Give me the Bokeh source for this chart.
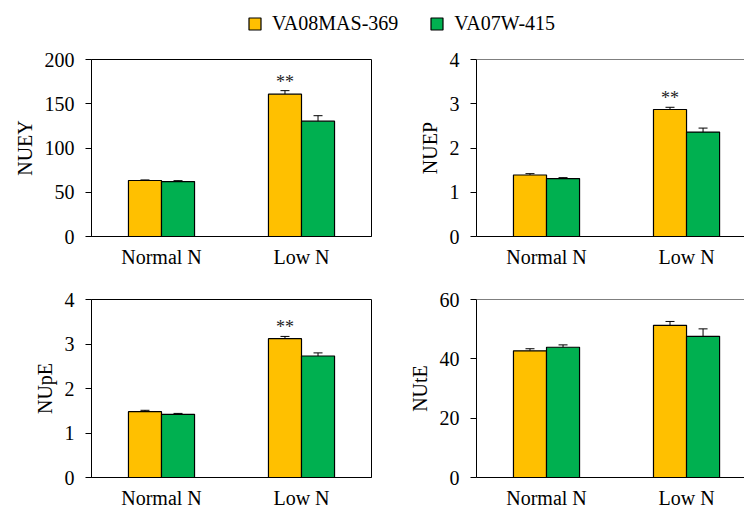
from bokeh.plotting import figure
from bokeh.layouts import column, row
from bokeh.models import (ColumnDataSource, Whisker, TeeHead, FixedTicker,
                          Range1d, Legend, LegendItem, Span)
from bokeh.transform import dodge
from bokeh.core.properties import value
from bokeh.embed import file_html
from bokeh.resources import INLINE

# ---------------- data ----------------
groups = ["Normal N", "Low N"]
series = ["VA08MAS-369", "VA07W-415"]
colors = ["#FFC000", "#00B050"]

nuey_va08 = [63.3, 160.8]
nuey_va08_err = [0.6, 4.0]
nuey_va07 = [62.1, 130.3]
nuey_va07_err = [1.0, 6.2]
nuey_ticks = [0, 50, 100, 150, 200]

nuep_va08 = [1.39, 2.87]
nuep_va08_err = [0.03, 0.05]
nuep_va07 = [1.31, 2.36]
nuep_va07_err = [0.02, 0.09]
nuep_ticks = [0, 1, 2, 3, 4]

nupe_va08 = [1.48, 3.12]
nupe_va08_err = [0.03, 0.05]
nupe_va07 = [1.42, 2.73]
nupe_va07_err = [0.02, 0.07]
nupe_ticks = [0, 1, 2, 3, 4]

nute_va08 = [42.7, 51.3]
nute_va08_err = [0.7, 1.3]
nute_va07 = [43.9, 47.6]
nute_va07_err = [0.8, 2.5]
nute_ticks = [0, 20, 40, 60]

nuey_sig = ["", "**"]
nuep_sig = ["", "**"]
nupe_sig = ["", "**"]
nute_sig = ["", ""]

# ---------------- style ----------------
FONT_NAME = "Liberation Serif"
FONT = value(FONT_NAME)
FS = "20px"
BAR_W = 0.236
OFF = 0.118


def make_panel(label, a, a_err, b, b_err, ticks, sig, *, width, height,
               bl, br, bt, bb, visible_span, open_right):
    xpos = list(range(len(groups)))
    src = ColumnDataSource(dict(
        x=xpos,
        a=a, a_hi=[v + e for v, e in zip(a, a_err)],
        b=b, b_hi=[v + e for v, e in zip(b, b_err)],
        sig=sig,
    ))
    p = figure(width=width, height=height,
               x_range=Range1d(-0.5, -0.5 + visible_span),
               y_range=Range1d(ticks[0], ticks[-1]),
               output_backend="svg", toolbar_location=None,
               min_border_left=bl, min_border_right=br,
               min_border_top=bt, min_border_bottom=bb)
    p.xgrid.visible = False
    p.ygrid.visible = False
    p.background_fill_color = "white"
    p.border_fill_color = "white"
    if open_right:
        p.outline_line_color = None
        p.add_layout(Span(location=ticks[-1], dimension="width",
                          line_color="black", line_width=1))
    else:
        p.outline_line_color = "black"
        p.outline_line_width = 1
        p.outline_line_alpha = 1

    # bars
    p.vbar(x=dodge("x", -OFF), top="a", width=BAR_W, source=src,
           fill_color=colors[0], line_color="black", line_width=1.2)
    p.vbar(x=dodge("x", OFF), top="b", width=BAR_W, source=src,
           fill_color=colors[1], line_color="black", line_width=1.2)

    # error bars (upper only)
    for off, lo, hi in ((-OFF, "a", "a_hi"), (OFF, "b", "b_hi")):
        w = Whisker(base=dodge("x", off), lower=lo, upper=hi, source=src,
                    line_color="black", line_width=1,
                    upper_head=TeeHead(size=9, line_color="black", line_width=1),
                    lower_head=None)
        p.add_layout(w)

    # significance
    p.text(x=dodge("x", -OFF), y="a_hi", text="sig", source=src,
           text_font=FONT, text_font_size="18px", text_color="#222222",
           text_align="center", text_baseline="middle", y_offset=-9)

    # axes
    p.xaxis.ticker = FixedTicker(ticks=xpos)
    p.xaxis.major_label_overrides = {i: g for i, g in enumerate(groups)}
    p.xaxis.major_tick_line_color = None
    p.xaxis.minor_tick_line_color = None
    p.xaxis.major_tick_out = 0
    p.xaxis.major_tick_in = 0
    p.xaxis.major_label_standoff = 9
    p.xaxis.axis_line_color = "black"

    p.yaxis.ticker = FixedTicker(ticks=ticks)
    p.yaxis.minor_tick_line_color = None
    p.yaxis.major_tick_in = 0
    p.yaxis.major_tick_out = 6
    p.yaxis.major_tick_line_color = "black"
    p.yaxis.major_label_standoff = 11
    p.yaxis.axis_label = label
    p.yaxis.axis_label_standoff = 6
    p.yaxis.axis_line_color = "black"

    for ax in (p.xaxis[0], p.yaxis[0]):
        ax.major_label_text_font = FONT_NAME
        ax.major_label_text_font_size = FS
        ax.major_label_text_font_style = "normal"
        ax.major_label_text_color = "black"
        ax.axis_label_text_font = FONT_NAME
        ax.axis_label_text_font_size = FS
        ax.axis_label_text_font_style = "normal"
        ax.axis_label_text_color = "black"
    return p


# ---------------- layout ----------------
LW, RW = 380, 364          # figure widths (left / right column)
LEG_H, TOP_H, BOT_H = 48, 230, 234

p1 = make_panel("NUEY", nuey_va08, nuey_va08_err, nuey_va07, nuey_va07_err,
                nuey_ticks, nuey_sig, width=LW, height=TOP_H,
                bl=91, br=9, bt=11, bb=42, visible_span=2.0, open_right=False)
p2 = make_panel("NUEP", nuep_va08, nuep_va08_err, nuep_va07, nuep_va07_err,
                nuep_ticks, nuep_sig, width=RW, height=TOP_H,
                bl=96, br=0, bt=11, bb=42, visible_span=1.914, open_right=True)
p3 = make_panel("NUpE", nupe_va08, nupe_va08_err, nupe_va07, nupe_va07_err,
                nupe_ticks, nupe_sig, width=LW, height=BOT_H,
                bl=91, br=9, bt=21, bb=35, visible_span=2.0, open_right=False)
p4 = make_panel("NUtE", nute_va08, nute_va08_err, nute_va07, nute_va07_err,
                nute_ticks, nute_sig, width=RW, height=BOT_H,
                bl=96, br=0, bt=21, bb=35, visible_span=1.914, open_right=True)

# legend strip
lf = figure(width=LW + RW, height=LEG_H, output_backend="svg",
            toolbar_location=None, min_border=0,
            x_range=Range1d(0, 1), y_range=Range1d(0, 1))
lf.axis.visible = False
lf.grid.visible = False
lf.outline_line_color = None
r1 = lf.vbar(x=[-10], top=[0], width=0.1, fill_color=colors[0],
             line_color="black", line_width=1.2)
r2 = lf.vbar(x=[-10], top=[0], width=0.1, fill_color=colors[1],
             line_color="black", line_width=1.2)
leg = Legend(items=[LegendItem(label=series[0], renderers=[r1]),
                    LegendItem(label=series[1], renderers=[r2])],
             orientation="horizontal", location=(247, 13),
             glyph_width=15, glyph_height=15, label_standoff=10, spacing=31,
             padding=0, margin=0, border_line_color=None,
             background_fill_alpha=0,
             label_text_font=FONT_NAME, label_text_font_size=FS,
             label_text_font_style="normal",
             label_text_color="black")
lf.add_layout(leg)

layout = column(lf, row(p1, p2), row(p3, p4))

with open("out.html", "w") as f:
    f.write(file_html(layout, INLINE))
